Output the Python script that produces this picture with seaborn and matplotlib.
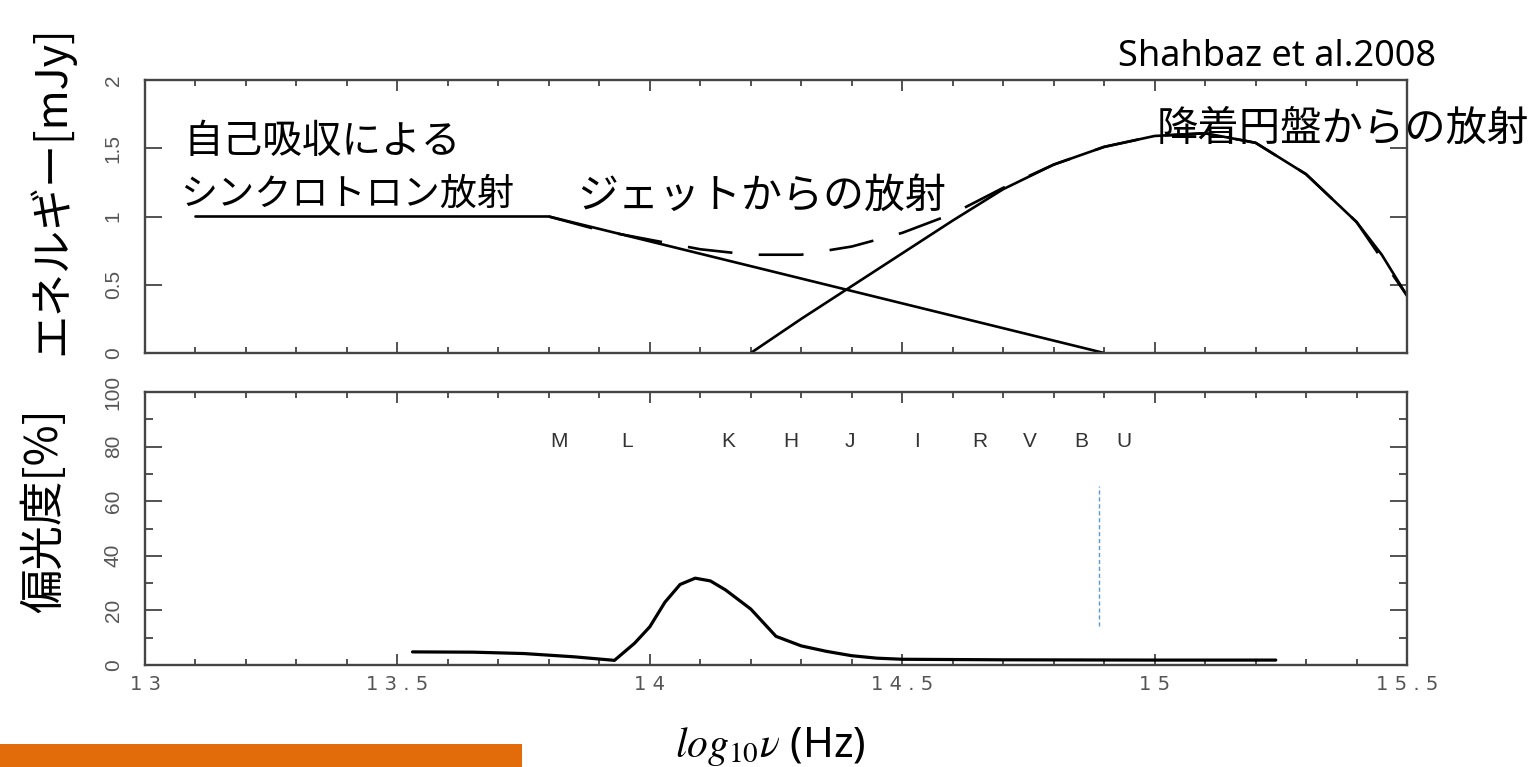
import numpy as np
import pandas as pd
import matplotlib
matplotlib.use("Agg")
import matplotlib.pyplot as plt
import seaborn as sns
from matplotlib.patches import Rectangle
from matplotlib.ticker import MultipleLocator

# ---------------- data ----------------
# Top panel: flux density (mJy) vs log10 nu
jet_x = [13.10, 13.80, 14.90]
jet_y = [1.00, 1.00, 0.00]

disk_x = [14.20, 14.30, 14.40, 14.50, 14.60, 14.70, 14.80, 14.90, 15.00,
          15.10, 15.20, 15.30, 15.40, 15.45, 15.50]
disk_y = [0.00, 0.25, 0.49, 0.73, 0.97, 1.20, 1.38, 1.51, 1.59,
          1.61, 1.54, 1.31, 0.96, 0.72, 0.42]

total_x = [13.80, 13.90, 14.00, 14.10, 14.20, 14.30, 14.40, 14.50, 14.60,
           14.70, 14.80, 14.90, 15.00, 15.10, 15.20, 15.30, 15.40, 15.50]
total_y = [1.00, 0.90, 0.83, 0.76, 0.72, 0.72, 0.78, 0.88, 1.02,
           1.21, 1.38, 1.51, 1.59, 1.61, 1.54, 1.31, 0.96, 0.42]

# Bottom panel: polarisation degree (%)
pol_x = [13.53, 13.65, 13.75, 13.85, 13.93, 13.97, 14.00, 14.03, 14.06, 14.09,
         14.12, 14.15, 14.20, 14.25, 14.30, 14.35, 14.40, 14.45, 14.50, 14.70,
         15.00, 15.24]
pol_y = [4.8, 4.7, 4.2, 3.0, 1.7, 8.0, 14.0, 23.0, 29.5, 31.8,
         30.8, 27.5, 20.5, 10.5, 7.0, 5.0, 3.4, 2.5, 2.1, 1.9,
         1.8, 1.8]

marker_x = [14.889, 14.889]
marker_y = [14.3, 65.5]

band_names = ["M", "L", "K", "H", "J", "I", "R", "V", "B", "U"]
band_x = [13.82, 13.954, 14.155, 14.28, 14.397, 14.53, 14.654, 14.753, 14.854, 14.94]
band_level = 81.8

xticks = [13, 13.5, 14, 14.5, 15, 15.5]
xticklabels = ["1 3", "1 3 . 5", "1 4", "1 4 . 5", "1 5", "1 5 . 5"]
top_yticks = [0, 0.5, 1, 1.5, 2]
top_yticklabels = ["0", "0.5", "1", "1.5", "2"]
bot_yticks = [0, 20, 40, 60, 80, 100]
bot_yticklabels = ["0", "20", "40", "60", "80", "100"]

# ---------------- style ----------------
sns.set_theme(style="ticks")
plt.rcParams["font.family"] = ["Noto Sans CJK JP", "DejaVu Sans"]
plt.rcParams["mathtext.fontset"] = "stix"

W, H = 1534, 767
fig = plt.figure(figsize=(W / 100, H / 100), dpi=100)
fig.patch.set_facecolor("white")

def fx(px):
    return px / W

def fy(py):
    return 1 - py / H

ax1 = fig.add_axes([fx(145), fy(353), fx(1407) - fx(145), fy(80) - fy(353)])
ax2 = fig.add_axes([fx(145), fy(665), fx(1407) - fx(145), fy(392) - fy(665)])

CJK = ["Noto Sans CJK JP", "DejaVu Sans"]
TICKF = ["Liberation Sans", "DejaVu Sans"]
spine_col = "#444444"
tick_col = "#555555"

df_jet = pd.DataFrame({"x": jet_x, "y": jet_y})
df_disk = pd.DataFrame({"x": disk_x, "y": disk_y})
df_tot = pd.DataFrame({"x": total_x, "y": total_y})
df_pol = pd.DataFrame({"x": pol_x, "y": pol_y})
df_mark = pd.DataFrame({"x": marker_x, "y": marker_y})

sns.lineplot(data=df_jet, x="x", y="y", ax=ax1, color="black", lw=1.9,
             estimator=None, sort=False)
sns.lineplot(data=df_disk, x="x", y="y", ax=ax1, color="black", lw=1.9,
             estimator=None, sort=False)
sns.lineplot(data=df_tot, x="x", y="y", ax=ax1, color="black", lw=1.9,
             estimator=None, sort=False)
ax1.lines[-1].set_dashes((17, 10))

sns.lineplot(data=df_pol, x="x", y="y", ax=ax2, color="black", lw=2.3,
             estimator=None, sort=False)
sns.lineplot(data=df_mark, x="x", y="y", ax=ax2, color="#5B9BD5", lw=1.0,
             estimator=None, sort=False)
ax2.lines[-1].set_dashes((3, 2))

for ax in (ax1, ax2):
    ax.set_xlim(13, 15.5)
    ax.set_xlabel("")
    ax.set_ylabel("")
    for s in ax.spines.values():
        s.set_visible(True)
        s.set_color(spine_col)
        s.set_linewidth(1.7)
    ax.xaxis.set_minor_locator(MultipleLocator(0.1))
    ax.tick_params(which="both", direction="in", top=True, right=True,
                   color=spine_col, width=1.3)
    ax.tick_params(which="major", length=8)
    ax.tick_params(which="minor", length=4)

ax1.set_ylim(0, 2)
ax1.set_xticks(xticks)
ax1.set_xticklabels([])
ax1.set_yticks(top_yticks)
ax1.set_yticklabels(top_yticklabels)
ax1.yaxis.set_minor_locator(MultipleLocator(10))
ax1.tick_params(axis="y", which="major", length=12)

ax2.set_ylim(0, 100)
ax2.set_xticks(xticks)
ax2.set_xticklabels(xticklabels)
ax2.set_yticks(bot_yticks)
ax2.set_yticklabels(bot_yticklabels)
ax2.yaxis.set_minor_locator(MultipleLocator(10))
ax2.tick_params(axis="y", which="major", length=12)
ax2.tick_params(axis="y", which="minor", length=6)

for ax in (ax1, ax2):
    for lab in ax.get_yticklabels():
        lab.set_rotation(90)
        lab.set_va("center")
        lab.set_family(TICKF)
        lab.set_fontsize(15)
        lab.set_color(tick_col)
    ax.tick_params(axis="y", pad=16)
for lab in ax2.get_xticklabels():
    lab.set_family(["DejaVu Sans"])
    lab.set_fontsize(14)
    lab.set_color(tick_col)
ax2.tick_params(axis="x", pad=7)

# band letters
for name, bx in zip(band_names, band_x):
    ax2.text(bx, band_level, name, ha="center", va="center", fontsize=15,
             family=TICKF, color="#333333")

# annotations in top panel
ax1.text(13.077, 1.546, "自己吸収による", ha="left", va="center",
         fontsize=28.5, family=CJK, color="black")
ax1.text(13.069, 1.165, "シンクロトロン放射", ha="left", va="center",
         fontsize=26.7, family=CJK, color="black")
ax1.text(13.856, 1.150, "ジェットからの放射", ha="left", va="center",
         fontsize=29.5, family=CJK, color="black")
ax1.text(15.005, 1.637, "降着円盤からの放射", ha="left", va="center",
         fontsize=29.8, family=CJK, color="black", clip_on=False)
ax1.text(14.927, 2.168, "Shahbaz et al.2008", ha="left", va="center",
         fontsize=26, family=["Noto Sans", "DejaVu Sans"], color="black",
         clip_on=False)

# axis labels
fig.text(fx(51), fy(190), "エネルギー[mJy]", rotation=90, ha="center",
         va="center", fontsize=31, family=CJK, color="black")
fig.text(fx(44), fy(511), "偏光度[%]", rotation=90, ha="center",
         va="center", fontsize=32, family=CJK, color="black")
fig.text(fx(770), fy(746), r"$log_{10}\nu$ (Hz)", ha="center", va="center",
         fontsize=30, family=["Noto Sans", "DejaVu Sans"], color="black")

# orange title bar fragment at bottom-left
fig.patches.append(Rectangle((0, 0), fx(522), fy(744), transform=fig.transFigure,
                             facecolor="#E36C0A", edgecolor="none", zorder=5))

fig.savefig("out.png", dpi=100, facecolor="white")
